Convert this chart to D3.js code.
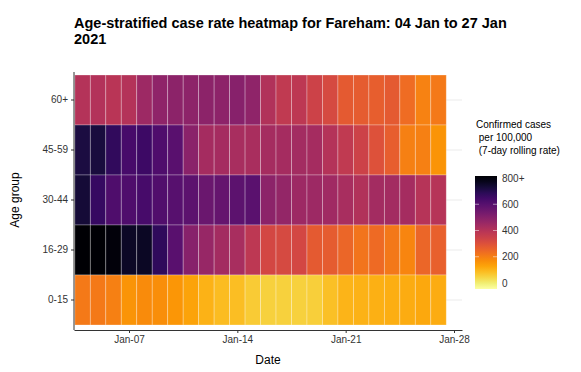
<!DOCTYPE html>
<html>
<head>
<meta charset="utf-8">
<script src="https://cdn.jsdelivr.net/npm/d3@7"></script>
<style>
  body { margin: 0; background: #fff; }
  svg { font-family: "Liberation Sans", Arial, sans-serif; }
</style>
</head>
<body>
<div id="chart"></div>
<script>
// Age groups (top to bottom) and daily dates
const ageGroups = ["60+", "45-59", "30-44", "16-29", "0-15"];
const days = d3.range(4, 28).map(d => new Date(Date.UTC(2021, 0, d)));

// 7-day rolling rate per 100,000, one array per age group, Jan 04 .. Jan 27
const rate60 = [415, 418, 405, 415, 460, 490, 495, 492, 495, 492, 505, 490, 420, 390, 395, 360, 340, 300, 295, 290, 300, 260, 220, 235];
const rate45 = [710, 715, 670, 630, 650, 615, 595, 500, 445, 445, 440, 435, 445, 445, 450, 445, 415, 390, 360, 320, 290, 225, 225, 190];
const rate30 = [725, 660, 615, 615, 630, 610, 600, 590, 560, 570, 590, 592, 495, 480, 460, 460, 455, 440, 420, 450, 450, 445, 410, 410];
const rate16 = [850, 850, 785, 745, 750, 675, 595, 505, 475, 450, 440, 395, 345, 340, 345, 300, 295, 275, 245, 265, 240, 215, 275, 285];
const rate0  = [235, 235, 225, 190, 205, 200, 185, 165, 140, 125, 120, 100, 90, 88, 90, 92, 118, 135, 140, 142, 145, 148, 155, 150];

const legendTicks = [0, 200, 400, 600, 800];
const xTicks = [7, 14, 21, 28].map(d => new Date(Date.UTC(2021, 0, d)));

const rows = { "60+": rate60, "45-59": rate45, "30-44": rate30, "16-29": rate16, "0-15": rate0 };
const cells = [];
ageGroups.forEach(g => rows[g].forEach((v, i) => cells.push({ group: g, date: days[i], value: v })));

const W = 581, H = 372;
const svg = d3.select("#chart").append("svg").attr("width", W).attr("height", H);

const panel = { left: 74, right: 462, top: 72, bottom: 330 };

const x = d3.scaleUtc()
    .domain([new Date(Date.UTC(2021, 0, 3, 10, 42)), new Date(Date.UTC(2021, 0, 28, 12, 24))])
    .range([panel.left, panel.right]);
const dayW = x(days[1]) - x(days[0]);

const y = d3.scaleBand().domain(ageGroups).range([75, 325]).padding(0);

const color = v => d3.interpolateInferno(1 - Math.min(v, 800) / 800);

// horizontal grid lines
svg.append("g").selectAll("line")
    .data(ageGroups)
    .join("line")
    .attr("x1", panel.left).attr("x2", panel.right)
    .attr("y1", d => y(d) + y.bandwidth() / 2).attr("y2", d => y(d) + y.bandwidth() / 2)
    .attr("stroke", "#ebebeb").attr("stroke-width", 1);

// tiles
svg.append("g").selectAll("rect")
    .data(cells)
    .join("rect")
    .attr("x", d => x(d.date) - dayW / 2)
    .attr("y", d => y(d.group))
    .attr("width", dayW)
    .attr("height", y.bandwidth())
    .attr("fill", d => color(d.value))
    .attr("stroke", "rgba(255,255,255,0.35)")
    .attr("stroke-width", 0.8);

// axes
const yAxis = svg.append("g")
    .attr("transform", `translate(${panel.left},0)`)
    .call(d3.axisLeft(y).tickSize(3).tickPadding(3));
yAxis.select(".domain").attr("d", `M0,${panel.top}V${panel.bottom}`).attr("stroke", "#333");

const xAxis = svg.append("g")
    .attr("transform", `translate(0,${panel.bottom})`)
    .call(d3.axisBottom(x).tickValues(xTicks).tickFormat(d3.utcFormat("%b-%d")).tickSize(3).tickPadding(3).tickSizeOuter(0));
xAxis.select(".domain").attr("stroke", "#333");

svg.selectAll(".tick text").attr("fill", "#333").style("font-size", "10px");
svg.selectAll(".tick line").attr("stroke", "#333");

// axis titles
svg.append("text")
    .attr("x", 268).attr("y", 364)
    .attr("text-anchor", "middle")
    .style("font-size", "12px")
    .text("Date");

svg.append("text")
    .attr("transform", `translate(19,${(75 + 325) / 2}) rotate(-90)`)
    .attr("text-anchor", "middle")
    .style("font-size", "12px")
    .text("Age group");

// title
const title = svg.append("text").style("font-size", "14.5px").style("font-weight", "bold");
title.append("tspan").attr("x", 74).attr("y", 28).text("Age-stratified case rate heatmap for Fareham: 04 Jan to 27 Jan");
title.append("tspan").attr("x", 74).attr("y", 43.5).text("2021");

// legend
const lg = svg.append("g");
const legTitle = lg.append("text").style("font-size", "10px");
["Confirmed cases", " per 100,000", " (7-day rolling rate)"].forEach((t, i) => {
    legTitle.append("tspan").attr("x", 476).attr("y", 128 + i * 13).attr("xml:space", "preserve").text(t);
});

const barTop = 176, barBottom = 289, barX = 475, barW = 22;
const ly = d3.scaleLinear().domain([0, 800]).range([barBottom - 6, barTop + 2]);

const grad = svg.append("defs").append("linearGradient")
    .attr("id", "lgGrad").attr("x1", 0).attr("x2", 0).attr("y1", 1).attr("y2", 0);
d3.range(0, 1.0001, 0.05).forEach(t => {
    grad.append("stop").attr("offset", t).attr("stop-color", color(t * 800));
});
lg.append("rect")
    .attr("x", barX).attr("y", barTop)
    .attr("width", barW).attr("height", barBottom - barTop)
    .attr("fill", "url(#lgGrad)");

lg.selectAll("line.tk")
    .data(legendTicks.slice(1, 4))
    .join("line")
    .attr("class", "tk")
    .attr("x1", barX).attr("x2", barX + barW)
    .attr("y1", d => ly(d)).attr("y2", d => ly(d))
    .attr("stroke", "rgba(255,255,255,0.5)")
    .attr("stroke-dasharray", "4,14");

lg.selectAll("text.lab")
    .data(legendTicks)
    .join("text")
    .attr("class", "lab")
    .attr("x", 502).attr("y", d => ly(d))
    .attr("dy", "0.35em")
    .style("font-size", "10px")
    .attr("fill", "#333")
    .text(d => d === 800 ? "800+" : d);
</script>
</body>
</html>
